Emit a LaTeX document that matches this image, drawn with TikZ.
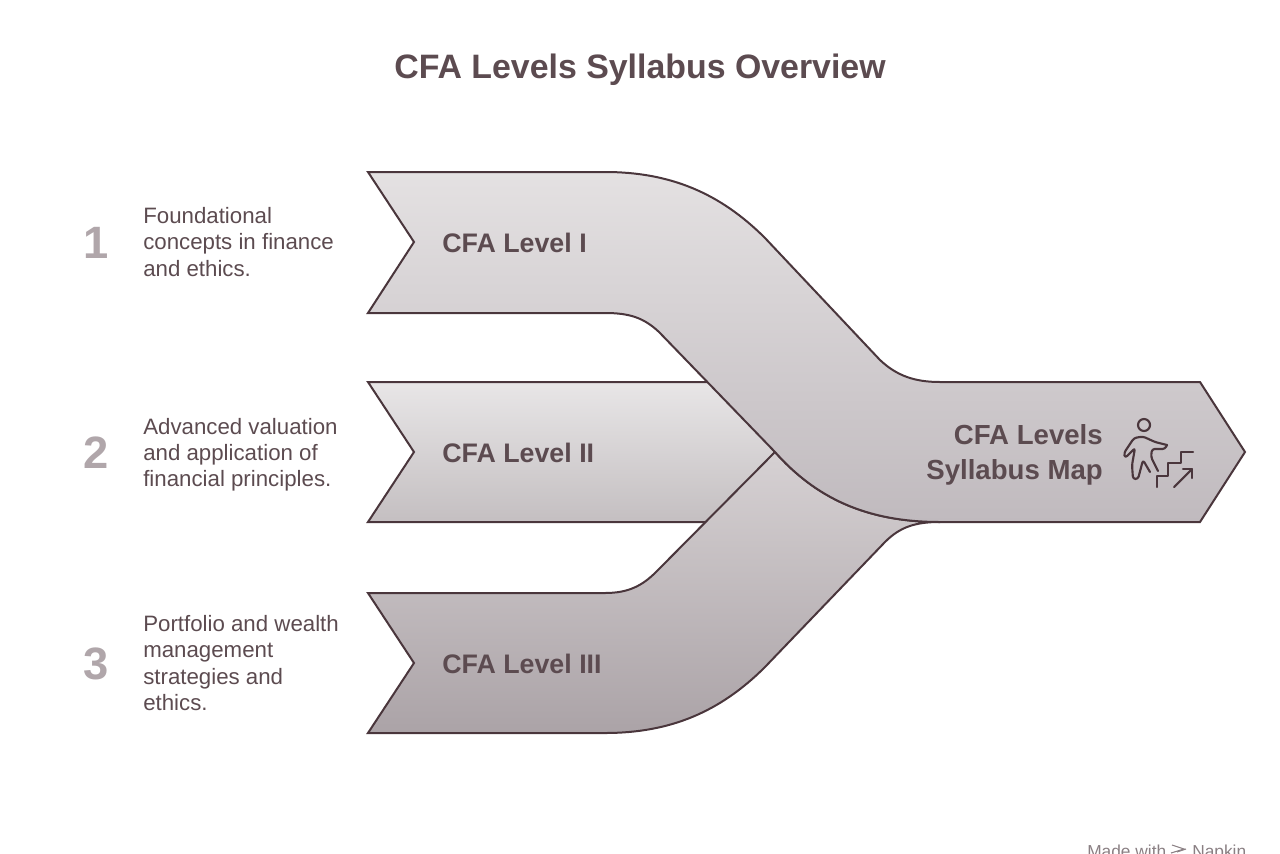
\documentclass[tikz,border=0pt]{standalone}
\usepackage{fontspec}
\setmainfont{Liberation Sans}
\usetikzlibrary{positioning}
\definecolor{inkdark}{HTML}{4A363C}
\definecolor{inktext}{HTML}{5C4B50}
\definecolor{numgray}{HTML}{B0A6AA}
\definecolor{footgray}{HTML}{8A7F83}
\begin{document}
\begin{tikzpicture}[
        x=0.75pt, y=-0.75pt,
        band/.style={draw=inkdark, line width=1.5pt, line join=miter},
        levelname/.style={font=\fontsize{20.1}{24}\selectfont\bfseries, text=inktext, anchor=west, inner sep=0pt},
        stepnum/.style={font=\fontsize{34}{36}\selectfont\bfseries, text=numgray, inner sep=0pt},
        blurb/.style={font=\fontsize{16.7}{19.6}\selectfont, text=inktext, align=left, anchor=west, inner sep=0pt},
        icon/.style={draw=inkdark, line width=1.6pt, line cap=round, line join=round},
        footer/.style={font=\fontsize{13}{15}\selectfont, text=footgray, anchor=base west, inner sep=0pt}
    ]
    \useasboundingbox (0,0) rectangle (1280,853);
    % Level II
    \path[band, top color={rgb,255:red,232;green,230;blue,231}, bottom color={rgb,255:red,196;green,191;blue,193}]
        (368,382) -- (715,382) -- (775,452) -- (715,522) -- (368,522) -- (414,452) -- cycle;
    % Level III
    \path[band, top color={rgb,255:red,214;green,209;blue,211}, bottom color={rgb,255:red,171;green,163;blue,167}]
        (368,593) -- (605,593) .. controls (628,593) and (642,586) .. (656,572)
        -- (775,452) .. controls (815,497) and (865,522) .. (940,522)
        .. controls (915,522) and (900,527) .. (885,542)
        -- (765,667) .. controls (720,712) and (670,733) .. (605,733)
        -- (368,733) -- (414,663) -- cycle;
    % Level I, runs on into the map arrow
    \path[band, top color={rgb,255:red,228;green,225;blue,226}, bottom color={rgb,255:red,192;green,186;blue,190}]
        (368,172) -- (605,172) .. controls (670,172) and (720,193) .. (765,238)
        -- (880,360) .. controls (897,376) and (915,382) .. (940,382)
        -- (1200,382) -- (1245,452) -- (1200,522) -- (940,522)
        .. controls (865,522) and (815,497) .. (775,452)
        -- (659,332) .. controls (644,318) and (630,313) .. (605,313)
        -- (368,313) -- (414,242) -- cycle;
    % Title
    \node[font=\fontsize{25.4}{30}\selectfont\bfseries, text=inktext, inner sep=0pt] (title) at (640,70) {CFA Levels Syllabus Overview};
    % Level names
    \node[levelname] (levelone) at (442,243) {CFA Level I};
    \node[levelname] (leveltwo) at (442,453) {CFA Level II};
    \node[levelname] (levelthree) at (442,664) {CFA Level III};
    \node[levelname, font=\fontsize{20.7}{26}\selectfont\bfseries, anchor=east, align=right] (levelmap) at (1103,455) {CFA Levels\\Syllabus Map};
    % Numbers
    \node[stepnum] (numone) at (96,243) {1};
    \node[stepnum] (numtwo) at (96,453) {2};
    \node[stepnum] (numthree) at (96,664) {3};
    % Descriptions
    \node[blurb] (blurbone) at (143,242) {Foundational\\concepts in finance\\and ethics.};
    \node[blurb] (blurbtwo) at (143,454.5) {Advanced valuation\\and application of\\financial principles.};
    \node[blurb] (blurbthree) at (143,663) {Portfolio and wealth\\management\\strategies and\\ethics.};
    % Walker icon
    \draw[icon] (1144,425) circle (6);
    \draw[icon, rounded corners=2pt] (1167,445) -- (1155,442) -- (1143,436.5) -- (1134,438) -- (1124,453) -- (1125,458)
        -- (1135,448) -- (1132,465) -- (1133,479) -- (1138,479) -- (1143,460) -- (1150,472);
    \draw[icon, rounded corners=2pt] (1167,445) -- (1165,449) -- (1152,449) -- (1151,457) -- (1158,471);
    \draw[icon] (1157,487) -- (1157,476) -- (1168,476) -- (1168,463) -- (1181,463) -- (1181,452) -- (1193,452);
    \draw[icon] (1174,487) -- (1192,469);
    \draw[icon] (1183,469) -- (1192,469) -- (1192,478);
    % Footer
    \node[footer] (madewith) at (1087,857) {Made with};
    \node[footer] (napkin) at (1192,857) {Napkin};
    \draw[footgray, line width=0.8pt] (1172,845) -- (1184,849) -- (1171,853);
    \draw[footgray, line width=0.8pt] (1177,852) -- (1186,849);
\end{tikzpicture}
\end{document}
